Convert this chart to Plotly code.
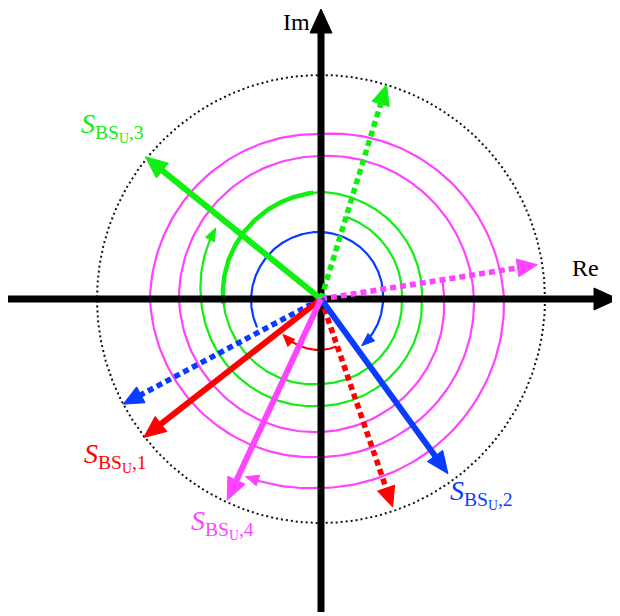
import numpy as np
import plotly.graph_objects as go

# ---------------- data (pixel units, origin at axis crossing) ----------------
PAGE_W, PAGE_H = 620, 616
BODY = 8                    # default page margin around the plot div
W, H = PAGE_W - BODY, PAGE_H - BODY
OX, OY = 321 - BODY, 299 - BODY   # axis crossing inside the div

series = ["S1", "S2", "S3", "S4"]
colors = ["#ff0000", "#0a3cff", "#11ee11", "#ff44ff"]

# solid phasors S_BS_U,k
solid_angle = [218, -54, 141, 245]       # degrees
solid_mag = [225, 216, 226, 222]
# dotted (reference) phasors of the same colour
dotted_angle = [-71, 208, 73, 9]
dotted_mag = [220, 224, 224, 219]

label_text = [
    "<i>S</i><sub>BS<sub>U</sub>,1</sub>",
    "<i>S</i><sub>BS<sub>U</sub>,2</sub>",
    "<i>S</i><sub>BS<sub>U</sub>,3</sub>",
    "<i>S</i><sub>BS<sub>U</sub>,4</sub>",
]
label_x = [-206, 160, -209, -99]
label_y = [-158, -195, 172, -225]

outer_radius = 224       # dotted black circle

# rotation arcs: control points (angle in degrees, clockwise = decreasing) and radius
red_arc_ang = [-72, -90, -137]
red_arc_r = [50, 51, 52]
blue_arc_ang = [204, 180, 90, 0, -49]
blue_arc_r = [70, 70, 67, 62, 62]
green_arc_ang = [73, 0, -90, -180, -270, -360, -450, -540, -574]
green_arc_r = [86, 81, 85, 98, 107, 101, 107, 120, 127]
green_thick_ang = [-177, -266]
pink_arc_ang = [9, 0, -90, -180, -270, -360, -450, -540, -630, -720, -810, -833]
pink_arc_r = [123, 123, 133, 142, 143, 153, 158, 171, 165, 183, 189, 193]

axis_labels = ["Re", "Im"]
axis_label_x = [264, -25]
axis_label_y = [31, 291]
axis_label_anchor = ["middle", "top"]

fig = go.Figure()


def add_line(x, y, color, width, dash="solid"):
    fig.add_trace(go.Scatter(x=list(x), y=list(y), mode="lines",
                             line=dict(color=color, width=width, dash=dash),
                             hoverinfo="skip", showlegend=False))


def add_head(tipx, tipy, ux, uy, length, width, color):
    bx, by = tipx - ux * length, tipy - uy * length
    px, py = -uy, ux
    xs = [tipx, bx + px * width / 2, bx - px * width / 2, tipx]
    ys = [tipy, by + py * width / 2, by - py * width / 2, tipy]
    fig.add_trace(go.Scatter(x=xs, y=ys, mode="lines", fill="toself",
                             fillcolor=color, line=dict(color=color, width=1),
                             hoverinfo="skip", showlegend=False))


def arc_points(ang, rad, n=500):
    ang = np.asarray(ang, float)
    rad = np.asarray(rad, float)
    a = np.linspace(ang[0], ang[-1], n)
    r = np.interp(a, ang[::-1], rad[::-1])
    t = np.radians(a)
    return r * np.cos(t), r * np.sin(t)


def add_arc(ang, rad, color, width, head=None):
    x, y = arc_points(ang, rad)
    if head:
        L, Wd = head
        d = np.hypot(np.diff(x), np.diff(y))
        s = np.concatenate([[0], np.cumsum(d)])
        keep = s <= s[-1] - L * 0.6
        add_line(x[keep], y[keep], color, width)
        ux, uy = x[-1] - x[-4], y[-1] - y[-4]
        n = np.hypot(ux, uy)
        add_head(x[-1], y[-1], ux / n, uy / n, L, Wd, color)
    else:
        add_line(x, y, color, width)


# dotted outer circle
t = np.linspace(0, 2 * np.pi, 721)
add_line(outer_radius * np.cos(t), outer_radius * np.sin(t), "#111111", 2, "2px,3px")

# rotation arcs
add_arc(pink_arc_ang, pink_arc_r, colors[3], 2.2, head=(13, 11))
add_arc(green_arc_ang, green_arc_r, colors[2], 2.2, head=(13, 10))
gx, gy = arc_points(green_arc_ang, green_arc_r, 2000)
ga = np.linspace(green_arc_ang[0], green_arc_ang[-1], 2000)
sel = (ga <= green_thick_ang[0]) & (ga >= green_thick_ang[1])
add_line(gx[sel], gy[sel], colors[2], 4.5)
add_arc(blue_arc_ang, blue_arc_r, colors[1], 2.2, head=(13, 10))
add_arc(red_arc_ang, red_arc_r, colors[0], 2.2, head=(12, 10))

# coordinate axes with arrows
add_line([-313, 297 - 22], [0, 0], "black", 7)
add_head(297, 0, 1, 0, 24, 22, "black")
add_line([0, 0], [-313, 290 - 22], "black", 7)
add_head(0, 290, 0, 1, 24, 22, "black")

# dotted phasors
for ang, mag, col in zip(dotted_angle, dotted_mag, colors):
    u, v = np.cos(np.radians(ang)), np.sin(np.radians(ang))
    L = 20
    add_line([0, u * (mag - L + 2)], [0, v * (mag - L + 2)], col, 5.5, "6px,4px")
    add_head(u * mag, v * mag, u, v, L, 18, col)

# solid phasors
for ang, mag, col in zip(solid_angle, solid_mag, colors):
    u, v = np.cos(np.radians(ang)), np.sin(np.radians(ang))
    L = 22
    add_line([0, u * (mag - L + 2)], [0, v * (mag - L + 2)], col, 6)
    add_head(u * mag, v * mag, u, v, L, 19, col)

annotations = []
for txt, x, y, col in zip(label_text, label_x, label_y, colors):
    annotations.append(dict(x=x, y=y, text=txt, showarrow=False,
                            font=dict(family="Liberation Serif", size=28, color=col),
                            xanchor="center", yanchor="middle"))
for txt, x, y, ya in zip(axis_labels, axis_label_x, axis_label_y, axis_label_anchor):
    annotations.append(dict(x=x, y=y, text=txt, showarrow=False, borderpad=0,
                            font=dict(family="Liberation Serif", size=24, color="black"),
                            xanchor="center", yanchor=ya))

fig.update_layout(
    width=W, height=H, autosize=False,
    margin=dict(l=0, r=0, t=0, b=0, pad=0),
    paper_bgcolor="white", plot_bgcolor="white",
    xaxis=dict(range=[-OX, W - OX], visible=False, fixedrange=True),
    yaxis=dict(range=[-(H - OY), OY], visible=False, fixedrange=True),
    annotations=annotations,
    showlegend=False,
)

fig.write_html("out.html")
